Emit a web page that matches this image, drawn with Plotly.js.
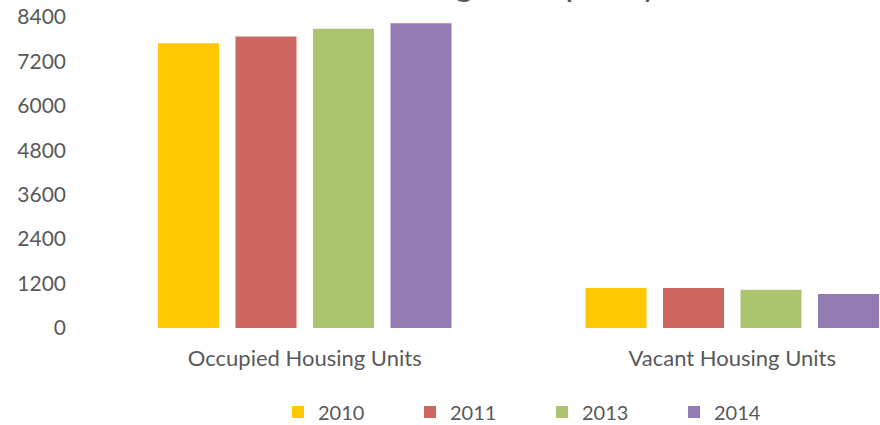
<!DOCTYPE html>
<html>
<head>
<meta charset="utf-8">
<script src="https://cdn.plot.ly/plotly-3.0.1.min.js"></script>
<style>
html,body{margin:0;padding:0;background:#fff;}
#chart{width:880px;height:425px;}
</style>
</head>
<body>
<div id="chart"></div>
<script>
var categories = ["Occupied Housing Units", "Vacant Housing Units"];
var years = ["2010", "2011", "2013", "2014"];
var values2010 = [7690, 1080];
var values2011 = [7876, 1080];
var values2013 = [8085, 1035];
var values2014 = [8230, 918];
var yTicks = [0, 1200, 2400, 3600, 4800, 6000, 7200, 8400];
var chartTitle = "Housing Occupancy";

var colors = ["#FFC800", "#CD6660", "#ABC46D", "#927AB2"];
var series = [values2010, values2011, values2013, values2014];
var FONT = "Lato, 'Open Sans', sans-serif";
var GRAY = "#595959";

var traces = series.map(function (vals, i) {
  return {
    type: "bar",
    name: years[i],
    x: categories,
    y: vals,
    marker: { color: colors[i] },
    hoverinfo: "x+y+name"
  };
});

var layout = {
  width: 880,
  height: 425,
  margin: { l: 91, r: 0, t: 17, b: 97 },
  paper_bgcolor: "#ffffff",
  plot_bgcolor: "#ffffff",
  barmode: "group",
  bargap: 0.275,
  bargroupgap: 0.213,
  font: { family: FONT, color: GRAY, size: 20 },
  showlegend: true,
  legend: {
    orientation: "h",
    x: 0.237,
    xanchor: "left",
    yref: "container",
    y: 0.0306,
    yanchor: "middle",
    entrywidth: 87,
    entrywidthmode: "pixels",
    font: { family: FONT, color: GRAY, size: 20 },
    traceorder: "normal"
  },
  xaxis: {
    type: "category",
    range: [-0.5, 1.3456],
    showgrid: false,
    zeroline: false,
    showline: false,
    ticks: "",
    ticklabelstandoff: 15,
    tickfont: { family: FONT, color: GRAY, size: 22 },
    fixedrange: true
  },
  yaxis: {
    range: [0, 8400],
    tickvals: yTicks,
    ticktext: yTicks.map(String),
    showgrid: false,
    zeroline: false,
    showline: false,
    ticks: "",
    ticklabelstandoff: 24,
    tickfont: { family: FONT, color: GRAY, size: 21 },
    fixedrange: true
  },
  annotations: [{
    text: chartTitle,
    xref: "paper",
    yref: "paper",
    x: 0.52,
    y: 1,
    xanchor: "center",
    yanchor: "bottom",
    yshift: 11,
    showarrow: false,
    font: { family: FONT, color: GRAY, size: 36 }
  }]
};

Plotly.newPlot("chart", traces, layout, { displayModeBar: false, staticPlot: true });
</script>
</body>
</html>
